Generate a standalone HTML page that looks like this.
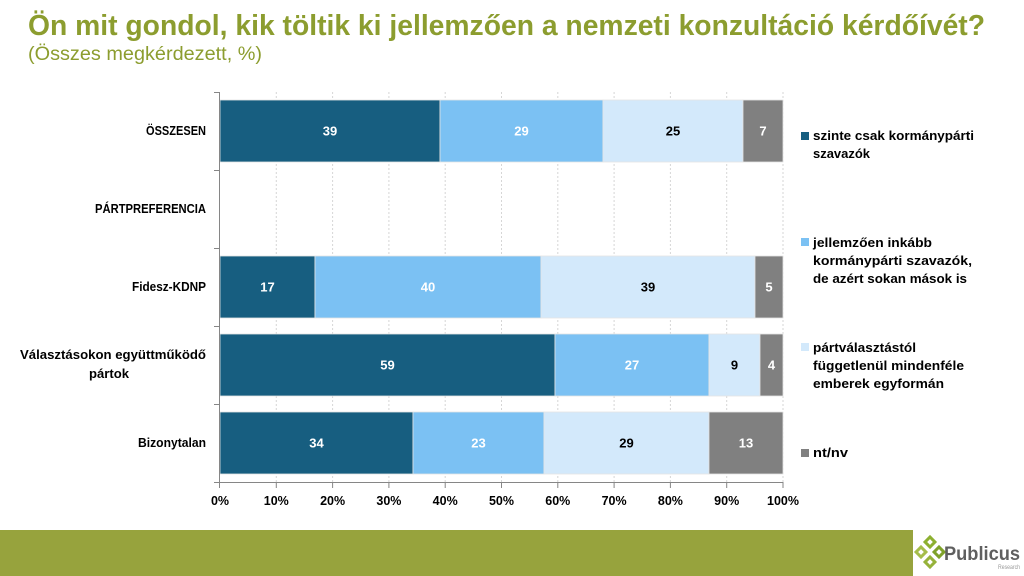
<!DOCTYPE html>
<html><head><meta charset="utf-8"><style>
html,body{margin:0;padding:0;background:#fff;}
svg{display:block;}
text{font-family:"Liberation Sans",Arial,sans-serif;}
</style></head><body>
<svg width="1024" height="576" viewBox="0 0 1024 576" xmlns="http://www.w3.org/2000/svg">
<rect width="1024" height="576" fill="#fff"/>
<!-- Title -->
<text x="28" y="35" font-size="29" font-weight="bold" fill="#8C9D2F" textLength="957" lengthAdjust="spacingAndGlyphs">Ön mit gondol, kik töltik ki jellemzően a nemzeti konzultáció kérdőívét?</text>
<text x="28" y="60" font-size="19" fill="#8C9D2F" textLength="234" lengthAdjust="spacingAndGlyphs">(Összes megkérdezett, %)</text>

<!-- gridlines -->
<g stroke="#D6D6D6" stroke-width="1" stroke-dasharray="2,2">
<line x1="276.3" y1="92" x2="276.3" y2="482"/>
<line x1="332.6" y1="92" x2="332.6" y2="482"/>
<line x1="388.9" y1="92" x2="388.9" y2="482"/>
<line x1="445.2" y1="92" x2="445.2" y2="482"/>
<line x1="501.5" y1="92" x2="501.5" y2="482"/>
<line x1="557.8" y1="92" x2="557.8" y2="482"/>
<line x1="614.1" y1="92" x2="614.1" y2="482"/>
<line x1="670.4" y1="92" x2="670.4" y2="482"/>
<line x1="726.7" y1="92" x2="726.7" y2="482"/>
<line x1="783" y1="92" x2="783" y2="482"/>
</g>

<!-- bars -->
<g stroke="#E4E4E4" stroke-width="0.8">
<rect x="220" y="100" width="220" height="62" fill="#175E80"/>
<rect x="440" y="100" width="163" height="62" fill="#7BC1F3"/>
<rect x="603" y="100" width="140" height="62" fill="#D3E9FB"/>
<rect x="743" y="100" width="40" height="62" fill="#808080"/>

<rect x="220" y="256" width="95" height="62" fill="#175E80"/>
<rect x="315" y="256" width="226" height="62" fill="#7BC1F3"/>
<rect x="541" y="256" width="214" height="62" fill="#D3E9FB"/>
<rect x="755" y="256" width="28" height="62" fill="#808080"/>

<rect x="220" y="334" width="335" height="62" fill="#175E80"/>
<rect x="555" y="334" width="154" height="62" fill="#7BC1F3"/>
<rect x="709" y="334" width="51" height="62" fill="#D3E9FB"/>
<rect x="760" y="334" width="23" height="62" fill="#808080"/>

<rect x="220" y="412" width="193" height="62" fill="#175E80"/>
<rect x="413" y="412" width="131" height="62" fill="#7BC1F3"/>
<rect x="544" y="412" width="165" height="62" fill="#D3E9FB"/>
<rect x="709" y="412" width="74" height="62" fill="#808080"/>
</g>

<!-- value labels -->
<g font-size="13" font-weight="bold" text-anchor="middle">
<text x="330" y="135.5" fill="#fff">39</text>
<text x="521.5" y="135.5" fill="#fff">29</text>
<text x="673" y="135.5" fill="#000">25</text>
<text x="763" y="135.5" fill="#fff">7</text>

<text x="267.5" y="291.5" fill="#fff">17</text>
<text x="428" y="291.5" fill="#fff">40</text>
<text x="648" y="291.5" fill="#000">39</text>
<text x="769" y="291.5" fill="#fff">5</text>

<text x="387.5" y="369.5" fill="#fff">59</text>
<text x="632" y="369.5" fill="#fff">27</text>
<text x="734.5" y="369.5" fill="#000">9</text>
<text x="771.5" y="369.5" fill="#fff">4</text>

<text x="316.5" y="447.5" fill="#fff">34</text>
<text x="478.5" y="447.5" fill="#fff">23</text>
<text x="626.5" y="447.5" fill="#000">29</text>
<text x="746" y="447.5" fill="#fff">13</text>
</g>

<!-- axes -->
<g stroke="#868686" stroke-width="1">
<line x1="219.5" y1="92" x2="219.5" y2="483"/>
<line x1="219.5" y1="482.5" x2="783" y2="482.5"/>
<line x1="214" y1="92.5" x2="219.5" y2="92.5"/>
<line x1="214" y1="170.5" x2="219.5" y2="170.5"/>
<line x1="214" y1="248.5" x2="219.5" y2="248.5"/>
<line x1="214" y1="326.5" x2="219.5" y2="326.5"/>
<line x1="214" y1="404.5" x2="219.5" y2="404.5"/>
<line x1="214" y1="482.5" x2="219.5" y2="482.5"/>
<line x1="219.5" y1="482" x2="219.5" y2="488"/>
<line x1="276.3" y1="482" x2="276.3" y2="488"/>
<line x1="332.6" y1="482" x2="332.6" y2="488"/>
<line x1="388.9" y1="482" x2="388.9" y2="488"/>
<line x1="445.2" y1="482" x2="445.2" y2="488"/>
<line x1="501.5" y1="482" x2="501.5" y2="488"/>
<line x1="557.8" y1="482" x2="557.8" y2="488"/>
<line x1="614.1" y1="482" x2="614.1" y2="488"/>
<line x1="670.4" y1="482" x2="670.4" y2="488"/>
<line x1="726.7" y1="482" x2="726.7" y2="488"/>
<line x1="783" y1="482" x2="783" y2="488"/>
</g>

<!-- x tick labels -->
<g font-size="12.5" font-weight="bold" text-anchor="middle" fill="#000">
<text x="220" y="505">0%</text>
<text x="276.3" y="505">10%</text>
<text x="332.6" y="505">20%</text>
<text x="388.9" y="505">30%</text>
<text x="445.2" y="505">40%</text>
<text x="501.5" y="505">50%</text>
<text x="557.8" y="505">60%</text>
<text x="614.1" y="505">70%</text>
<text x="670.4" y="505">80%</text>
<text x="726.7" y="505">90%</text>
<text x="783" y="505">100%</text>
</g>

<!-- category labels -->
<g font-size="12.5" font-weight="bold" fill="#000">
<text x="206" y="135" text-anchor="end" textLength="60" lengthAdjust="spacingAndGlyphs">ÖSSZESEN</text>
<text x="206" y="213" text-anchor="end" textLength="111" lengthAdjust="spacingAndGlyphs">PÁRTPREFERENCIA</text>
<text x="206" y="291" text-anchor="end" textLength="74" lengthAdjust="spacingAndGlyphs">Fidesz-KDNP</text>
<text x="20" y="359" textLength="186" lengthAdjust="spacingAndGlyphs">Választásokon együttműködő</text>
<text x="89" y="378" textLength="40" lengthAdjust="spacingAndGlyphs">pártok</text>
<text x="206" y="447" text-anchor="end" textLength="68" lengthAdjust="spacingAndGlyphs">Bizonytalan</text>
</g>

<!-- legend -->
<rect x="801" y="132" width="8" height="8" fill="#175E80"/>
<rect x="801" y="238" width="8" height="8" fill="#7BC1F3"/>
<rect x="801" y="343" width="8" height="8" fill="#D3E9FB"/>
<rect x="801" y="449" width="8" height="8" fill="#808080"/>
<g font-size="13" font-weight="bold" fill="#000">
<text x="813" y="140" textLength="161" lengthAdjust="spacingAndGlyphs">szinte csak kormánypárti</text>
<text x="813" y="158" textLength="57" lengthAdjust="spacingAndGlyphs">szavazók</text>
<text x="813" y="247" textLength="119" lengthAdjust="spacingAndGlyphs">jellemzően inkább</text>
<text x="813" y="265" textLength="159" lengthAdjust="spacingAndGlyphs">kormánypárti szavazók,</text>
<text x="813" y="283" textLength="154" lengthAdjust="spacingAndGlyphs">de azért sokan mások is</text>
<text x="813" y="352" textLength="103" lengthAdjust="spacingAndGlyphs">pártválasztástól</text>
<text x="813" y="370" textLength="151" lengthAdjust="spacingAndGlyphs">függetlenül mindenféle</text>
<text x="813" y="388" textLength="131" lengthAdjust="spacingAndGlyphs">emberek egyformán</text>
<text x="813" y="457" textLength="35" lengthAdjust="spacingAndGlyphs">nt/nv</text>
</g>

<!-- bottom band -->
<rect x="0" y="530" width="913" height="46" fill="#97A33D"/>

<!-- logo -->
<g>
<rect x="-5" y="-5" width="10" height="10" fill="#8DB030" transform="translate(930,542) rotate(45)"/>
<rect x="-5" y="-5" width="10" height="10" fill="#A5BD4A" transform="translate(921,552) rotate(45)"/>
<rect x="-5" y="-5" width="10" height="10" fill="#7FA22A" transform="translate(939,552) rotate(45)"/>
<rect x="-5" y="-5" width="10" height="10" fill="#96B23A" transform="translate(930,562) rotate(45)"/>
<rect x="-2" y="-2" width="4" height="4" fill="#fff" transform="translate(930,542) rotate(45)"/>
<rect x="-2" y="-2" width="4" height="4" fill="#fff" transform="translate(921,552) rotate(45)"/>
<rect x="-2" y="-2" width="4" height="4" fill="#fff" transform="translate(939,552) rotate(45)"/>
<rect x="-2" y="-2" width="4" height="4" fill="#fff" transform="translate(930,562) rotate(45)"/>
</g>
<text x="944" y="560" font-size="19" font-weight="bold" fill="#5F5F5F" textLength="76" lengthAdjust="spacingAndGlyphs">Publicus</text>
<text x="1020" y="569" font-size="6" fill="#9A9A9A" text-anchor="end" textLength="22" lengthAdjust="spacingAndGlyphs">Research</text>
</svg>
</body></html>
